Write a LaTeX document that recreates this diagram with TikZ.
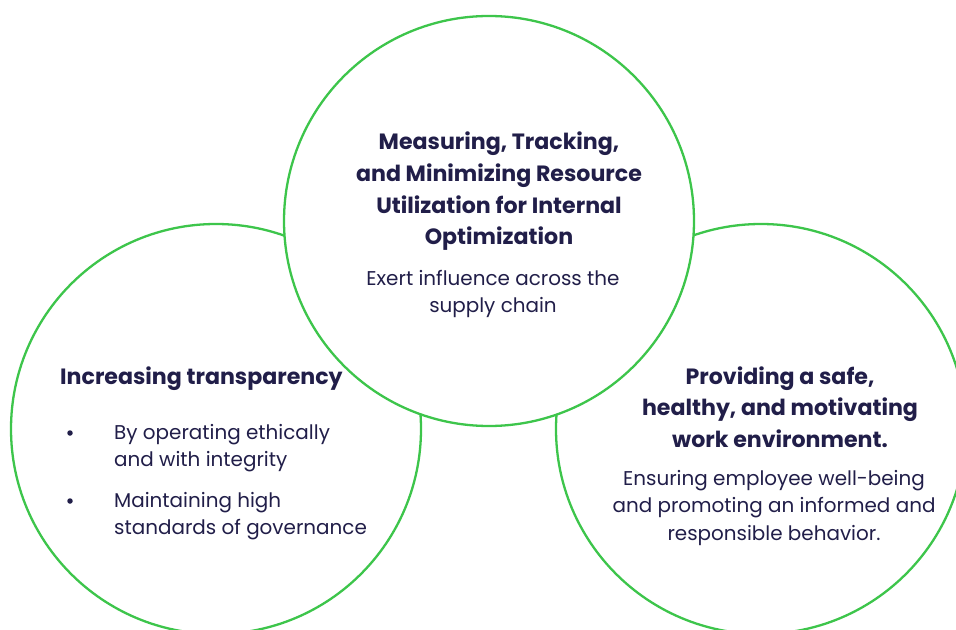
\documentclass[tikz,border=0pt]{standalone}
\usepackage{fontspec}
\setmainfont{Poppins}
\usetikzlibrary{positioning}
\definecolor{ringgreen}{HTML}{3DC54B}
\definecolor{ink}{HTML}{211E49}
\tikzset{
  ring/.style={circle, draw=ringgreen, fill=white, line width=2.3bp,
    minimum size=410bp, inner sep=0pt},
  headtext/.style={align=center, text=ink, inner sep=0pt,
    font=\fontsize{22.2}{31.8}\selectfont\bfseries},
  bodytext/.style={align=center, text=ink, inner sep=0pt,
    font=\fontsize{20}{27.2}\selectfont},
  dot/.style={circle, fill=ink, inner sep=0pt, minimum size=5.5bp},
}

\begin{document}
\begin{tikzpicture}[x=1bp,y=-1bp]
    \useasboundingbox (0,0) rectangle (956,630);

    % rings, the top one last so that it covers the other two
    \foreach \nm/\x/\y in {leftring/216/429, rightring/761/429, topring/489/221}
      \node [ring] (\nm) at (\x,\y) {};

    % top ring
    \node [headtext] (tophead) at (499,191.5)
      {Measuring, Tracking,\\and Minimizing Resource\\Utilization for Internal\\Optimization};
    \node [bodytext] (topbody) at (493,294)
      {Exert influence across the\\supply chain};

    % left ring
    \node [headtext, anchor=west] (lefthead) at (60,379) {Increasing transparency};
    \node [bodytext, align=left, anchor=west] (itemone) at (114,448)
      {By operating ethically\\and with integrity};
    \node [bodytext, align=left, below=20bp of itemone.south west, anchor=north west] (itemtwo)
      {Maintaining high\\standards of governance};
    \node [dot] (dotone) at (70,433) {};
    \node [dot] (dottwo) at (70,501) {};

    % right ring
    \node [headtext] (righthead) at (780,407)
      {Providing a safe,\\healthy, and motivating\\work environment.};
    \node [bodytext] (rightbody) at (774,508)
      {Ensuring employee well-being\\and promoting an informed and\\responsible behavior.};
\end{tikzpicture}
\end{document}
